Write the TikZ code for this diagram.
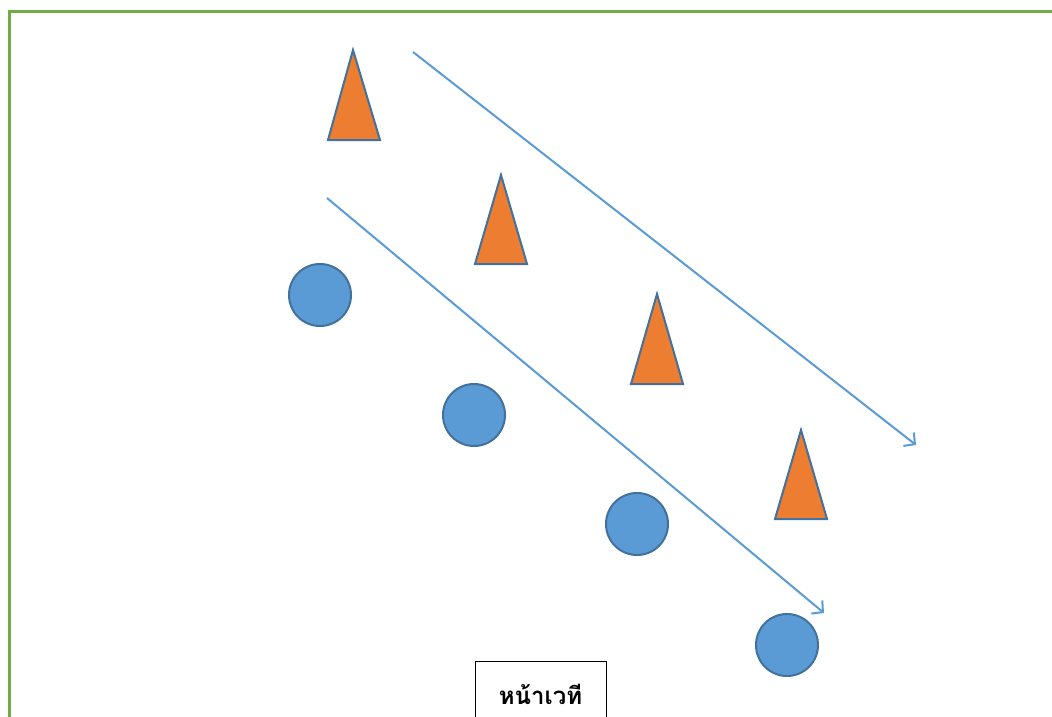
\documentclass[tikz,border=0pt]{standalone}
\usepackage{fontspec}
\newfontfamily\thaifont[Script=Thai]{Loma}
\usetikzlibrary{arrows.meta}
\definecolor{cone}{HTML}{ED7D31}
\definecolor{ball}{HTML}{5B9BD5}
\definecolor{edge}{HTML}{41719C}
\definecolor{frame}{HTML}{70AD47}
\tikzset{
  conestyle/.style={fill=cone, draw=edge, line width=2pt, line join=miter},
  ballstyle/.style={circle, fill=ball, draw=edge, line width=2pt, minimum size=62pt, inner sep=0pt},
  pathline/.style={draw=ball, line width=2pt, -{Straight Barb[length=8pt,width=17pt,line width=2pt]}},
  label/.style={font=\thaifont\bfseries\fontsize{24}{28}\selectfont, inner sep=0pt}
}
\begin{document}
\begin{tikzpicture}[x=1pt,y=-1pt]
\useasboundingbox (0,0) rectangle (1052,717);
\fill[white] (0,0) rectangle (1052,717);
% frame
\draw[frame, line width=3pt] (1052,12) -- (9,12) -- (9,717);
% cones
\draw[conestyle] (353,50) -- (380,140) -- (328,140) -- cycle;
\draw[conestyle] (501,175) -- (527,264) -- (475,264) -- cycle;
\draw[conestyle] (657,294) -- (683,384) -- (631,384) -- cycle;
\draw[conestyle] (801,430) -- (827,519) -- (775,519) -- cycle;
% balls
\node[ballstyle] (b1) at (320,295) {};
\node[ballstyle] (b2) at (474,415) {};
\node[ballstyle] (b3) at (637,524) {};
\node[ballstyle] (b4) at (787,645) {};
% arrows
\coordinate (a1s) at (413,52);
\coordinate (a1e) at (916,445);
\coordinate (a2s) at (327,198);
\coordinate (a2e) at (824,613);
\draw[pathline] (a1s) -- (a1e);
\draw[pathline] (a2s) -- (a2e);
% stage box
\draw[black, line width=1pt] (475,717) -- (475,661) -- (606,661) -- (606,717);
\node[label] (stage) at (540.5,694) {หน้าเวที};
\end{tikzpicture}
\end{document}
